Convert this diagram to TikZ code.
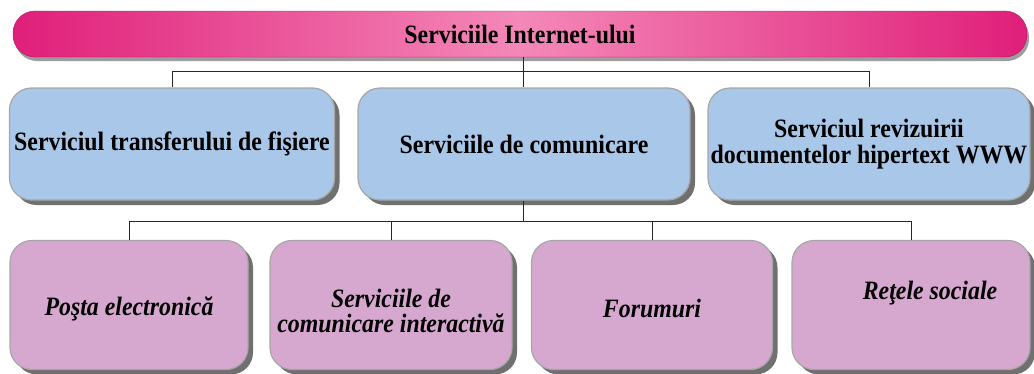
\documentclass[tikz,border=0pt]{standalone}
\usepackage{fontspec}
\setmainfont{Liberation Serif}[FakeStretch=0.9]
\usetikzlibrary{shadows}
\definecolor{barDark}{HTML}{E01F7A}
\definecolor{barLight}{HTML}{F488B8}
\definecolor{boxBlue}{HTML}{A9C7E8}
\definecolor{boxPink}{HTML}{D7A8CF}
\tikzset{
  % the title bar and the two rows of boxes
  title bar/.style={rounded corners=22pt,draw=barDark!80!black,
    left color=barDark,right color=barDark,middle color=barLight,
    minimum width=1014pt,minimum height=46pt,
    font=\fontsize{26.5}{26}\selectfont\bfseries,
    drop shadow={shadow xshift=2pt,shadow yshift=-4pt,fill=black!70,opacity=.55}},
  service box/.style={rounded corners=22pt,draw=gray!70,line width=1.2pt,
    fill=boxBlue,minimum height=112pt,align=center,inner sep=0pt,
    font=\fontsize{26.5}{25.5}\selectfont\bfseries,
    drop shadow={shadow xshift=5pt,shadow yshift=-5pt,fill=black!80,opacity=.7}},
  leaf box/.style={service box,fill=boxPink,minimum height=129pt},
  leaf text/.style={align=center,inner sep=0pt,
    font=\fontsize{26.5}{25.5}\selectfont\bfseries\itshape},
  link/.style={draw=black!85,line width=1pt}
}

\begin{document}
\begin{tikzpicture}[x=1pt,y=-1pt]
\useasboundingbox (0,0) rectangle (1034,373);
% top
\node[title bar] (top) at (520,34) {Serviciile Internet-ului};
% first row
\node[service box,minimum width=325pt] (s1) at (172,144) {Serviciul transferului de fişiere};
\node[service box,minimum width=332pt] (s2) at (524,144) {Serviciile de comunicare};
\node[service box,minimum width=322pt] (s3) at (869,144) {Serviciul revizuirii\\documentelor hipertext WWW};
% second row
\node[leaf box,minimum width=238pt,label={[leaf text,yshift=-4pt]center:Poşta electronică}] (c1) at (129,305) {};
\node[leaf box,minimum width=242pt,label={[leaf text,yshift=-6pt]center:Serviciile de\\comunicare interactivă}] (c2) at (391,305) {};
\node[leaf box,minimum width=241pt,label={[leaf text,yshift=-3pt]center:Forumuri}] (c3) at (652,305) {};
\node[leaf box,minimum width=238pt,label={[leaf text,xshift=19pt,yshift=12pt]center:Reţele sociale}] (c4) at (911,305) {};
% connectors
\coordinate (hub) at (523,71);
\coordinate (hub2) at (523,221);
\draw[link] (top.south -| hub) -- (s2.north -| hub);
\draw[link] (s1.north) -- (s1.north |- hub) -- (s3.north |- hub) -- (s3.north);
\draw[link] (s2.south -| hub2) -- (hub2);
\draw[link] (c1.north) -- (c1.north |- hub2) -- (c4.north |- hub2) -- (c4.north);
\draw[link] (c2.north) -- (c2.north |- hub2);
\draw[link] (c3.north) -- (c3.north |- hub2);
\end{tikzpicture}
\end{document}
